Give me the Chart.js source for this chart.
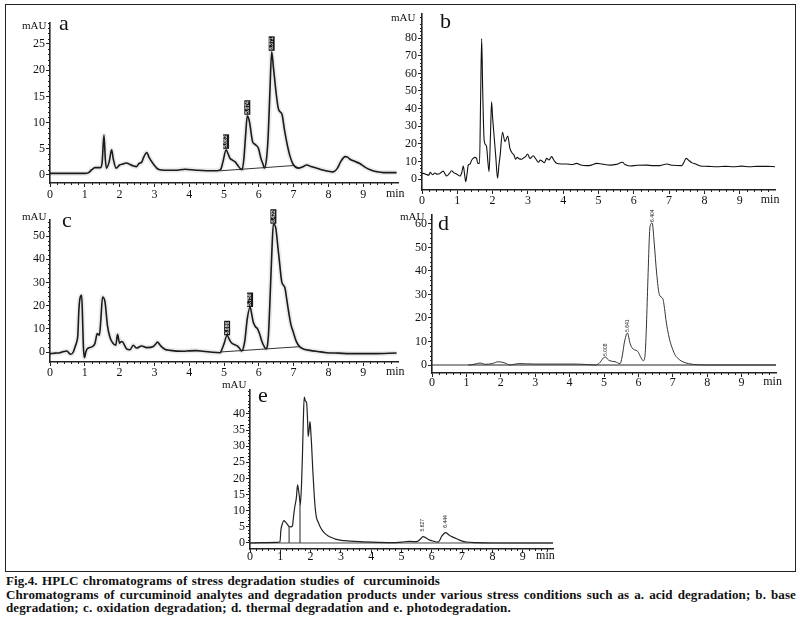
<!DOCTYPE html>
<html>
<head>
<meta charset="utf-8">
<script src="https://cdn.jsdelivr.net/npm/chart.js@4/dist/chart.umd.min.js"></script>
<style>
body { margin: 0; background: #fff; width: 811px; height: 634px; position: relative; overflow: hidden;
       font-family: "Liberation Serif", "Times New Roman", serif; color: #111; }
#frame { position: absolute; left: 5px; top: 4px; width: 789px; height: 566px; border: 1px solid #222; }
canvas { position: absolute; }
.unit { position: absolute; font-size: 11px; line-height: 11px; }
.tag { position: absolute; font-size: 22px; line-height: 22px; }
.cap { position: absolute; left: 6px; width: 790px; font-size: 13px; line-height: 14px; white-space: nowrap;
       color: #111; font-weight: bold; letter-spacing: 0.1px; word-spacing: 1px; }
.just { text-align: justify; text-align-last: justify; word-spacing: 0; }
</style>
</head>
<body>
<div id="frame"></div>

<canvas id="chartA"></canvas>
<canvas id="chartB"></canvas>
<canvas id="chartC"></canvas>
<canvas id="chartD"></canvas>
<canvas id="chartE"></canvas>

<div class="unit" style="left:22px;top:20px">mAU</div>
<div class="unit" style="left:391px;top:12px">mAU</div>
<div class="unit" style="left:22px;top:211px">mAU</div>
<div class="unit" style="left:400px;top:211px">mAU</div>
<div class="unit" style="left:222px;top:379px">mAU</div>

<div class="tag" style="left:59px;top:12px">a</div>
<div class="tag" style="left:440px;top:10px">b</div>
<div class="tag" style="left:62px;top:209px">c</div>
<div class="tag" style="left:438px;top:212px">d</div>
<div class="tag" style="left:258px;top:384px">e</div>

<div class="cap" style="top:574px">Fig.4. HPLC chromatograms of stress degradation studies of&nbsp; curcuminoids</div>
<div class="cap just" style="top:588px">Chromatograms of curcuminoid analytes and degradation products under various stress conditions such as a. acid degradation; b. base</div>
<div class="cap" style="top:601px">degradation; c. oxidation degradation; d. thermal degradation and e. photodegradation.</div>

<script>
// ---- data (time in min, signal in mAU) ----
const xTicks = [0, 1, 2, 3, 4, 5, 6, 7, 8, 9];

const aTime = [0, 0.5, 1.0, 1.1, 1.2, 1.29, 1.45, 1.5, 1.55, 1.59, 1.62, 1.7, 1.77, 1.82, 1.9, 2.0, 2.1, 2.2, 2.3, 2.4,
  2.49, 2.56, 2.63, 2.7, 2.78, 2.85, 2.97, 3.11, 3.3, 3.6, 3.88, 4.2, 4.5, 4.79, 4.9, 4.97, 5.06, 5.12, 5.17, 5.25,
  5.32, 5.4, 5.47, 5.52, 5.57, 5.62, 5.67, 5.73, 5.82, 5.9, 5.99, 6.06, 6.13, 6.16, 6.22, 6.27, 6.32, 6.37, 6.42, 6.5,
  6.56, 6.62, 6.67, 6.74, 6.82, 6.9, 6.99, 7.14, 7.25, 7.38, 7.5, 7.76, 8.0, 8.14, 8.26, 8.35, 8.48, 8.55, 8.62, 8.75,
  8.9, 9.05, 9.2, 9.4, 9.58, 9.96];
const aMau = [0.3, 0.3, 0.3, 0.4, 1.0, 1.4, 1.4, 2.5, 7.6, 3.0, 1.3, 2.5, 4.8, 3.0, 1.3, 1.9, 2.1, 2.3, 2.0, 1.7,
  1.6, 2.2, 2.4, 3.5, 4.3, 3.3, 2.1, 1.1, 0.9, 0.9, 1.1, 0.9, 0.8, 0.8, 1.0, 2.5, 4.8, 4.0, 3.2, 2.8,
  2.5, 1.8, 1.2, 1.0, 3.0, 7.5, 11.3, 10.2, 6.4, 5.8, 5.1, 3.2, 1.9, 1.3, 3.0, 7.5, 16, 23.5, 20.5, 15.5,
  12.7, 12.0, 11.5, 8.5, 5.7, 3.5, 2.0, 1.3, 1.5, 1.9, 1.6, 1.1, 0.7, 0.6, 1.3, 2.5, 3.5, 3.4, 3.0, 2.6,
  2.2, 1.5, 1.0, 0.6, 0.45, 0.45];
const aYTicks = [0, 5, 10, 15, 20, 25];
const aPeakTimes = [5.06, 5.67, 6.37];
const aPeakText = ['5.062', '5.674', '6.371'];
const aBaseTime = [4.89, 6.99];
const aBaseMau = [0.8, 1.8];

const bTime = [0, 0.04, 0.12, 0.2, 0.23, 0.3, 0.36, 0.42, 0.5, 0.56, 0.6, 0.65, 0.7, 0.77, 0.84, 0.9, 0.98, 1.08, 1.13, 1.17,
  1.21, 1.24, 1.28, 1.31, 1.36, 1.41, 1.5, 1.55, 1.58, 1.63, 1.66, 1.69, 1.72, 1.76, 1.8, 1.83, 1.87, 1.9, 1.94, 1.97,
  2.0, 2.04, 2.09, 2.14, 2.18, 2.21, 2.28, 2.35, 2.43, 2.49, 2.56, 2.61, 2.65, 2.7, 2.75, 2.82, 2.88, 2.94, 2.99, 3.06,
  3.15, 3.22, 3.3, 3.35, 3.39, 3.47, 3.53, 3.6, 3.67, 3.74, 3.81, 3.95, 4.1, 4.25, 4.38, 4.5, 4.66, 4.8, 4.95, 5.1,
  5.33, 5.5, 5.68, 5.75, 5.89, 6.1, 6.36, 6.55, 6.74, 6.93, 7.1, 7.36, 7.42, 7.48, 7.56, 7.64, 7.75, 7.88, 8.1, 8.35,
  8.6, 8.82, 9.05, 9.29, 9.5, 9.76, 10.0];
const bMau = [3.0, 3.2, 2.6, 2.2, 3.8, 2.4, 3.4, 2.8, 3.0, 4.0, 4.5, 3.0, 1.7, 3.0, 4.7, 3.6, 2.8, 1.7, 4.0, 7.4,
  2.0, -1.5, 3.5, 7.9, 8.5, 10.8, 12.3, 11.5, 8.9, 8.9, 45, 79.8, 50, 22.1, 19.5, 18.3, 9, 4.2, 25, 43.9,
  35, 25, 12.7, 0.4, 8, 12.7, 26.5, 21.2, 24.4, 17.4, 14.6, 13.5, 11.2, 12.3, 11.5, 11.2, 12.0, 12.8, 14.2, 11.7,
  13.2, 11.5, 9.5, 10.8, 10.4, 9.3, 11.7, 10.8, 12.7, 10.5, 8.9, 8.5, 8.5, 8.2, 8.9, 8.0, 7.6, 7.9, 8.9, 8.5,
  7.9, 8.3, 9.5, 8.2, 7.4, 7.8, 7.9, 7.6, 7.6, 8.5, 7.8, 7.6, 9.5, 11.7, 10.5, 9.3, 8.5, 7.4, 7.2, 7.0,
  7.2, 7.0, 7.3, 7.0, 7.2, 7.2, 7.0];
const bYTicks = [0, 10, 20, 30, 40, 50, 60, 70, 80];

const cTime = [0, 0.15, 0.29, 0.4, 0.48, 0.55, 0.6, 0.67, 0.72, 0.77, 0.8, 0.83, 0.86, 0.91, 0.94, 0.96, 0.99, 1.03, 1.07, 1.2,
  1.29, 1.36, 1.42, 1.46, 1.51, 1.58, 1.65, 1.72, 1.8, 1.89, 1.94, 2.0, 2.05, 2.09, 2.2, 2.3, 2.39, 2.49, 2.63, 2.78,
  2.97, 3.04, 3.09, 3.15, 3.21, 3.3, 3.45, 3.83, 4.0, 4.21, 4.4, 4.6, 4.89, 4.95, 5.0, 5.09, 5.15, 5.22, 5.38, 5.45,
  5.51, 5.56, 5.6, 5.67, 5.75, 5.8, 5.84, 5.9, 5.96, 6.02, 6.08, 6.15, 6.21, 6.25, 6.28, 6.34, 6.38, 6.42, 6.49, 6.55,
  6.59, 6.66, 6.75, 6.8, 6.85, 6.92, 6.99, 7.08, 7.18, 7.3, 7.47, 7.7, 7.95, 8.3, 8.62, 9.29, 9.96];
const cMau = [-0.7, -0.5, -0.3, 0.2, 0.4, -0.5, -1.0, 0.0, 2.2, 4.5, 7.2, 18, 23, 24.4, 12, 2.2, -2.4, 0, 1.4, 2.2,
  3.6, 7.9, 7.2, 13.6, 23.7, 21.6, 11.5, 6.5, 4.0, 2.9, 7.6, 3.8, 4.5, 4.3, 1.4, 1.0, 2.9, 1.7, 2.6, 1.9,
  2.4, 3.5, 4.3, 3.2, 2.2, 1.2, 0.7, 0.3, 0.5, 0.6, 0.3, 0.0, -0.3, 1.5, 3.5, 7.2, 5.5, 3.9, 2.6, 1.5,
  0.4, 2.0, 5.0, 14.4, 19.4, 16, 12.9, 11, 10.1, 8, 5.0, 2.5, 1.4, 3.0, 8, 29.5, 45, 55.3, 53.2, 45,
  39.5, 30.2, 27.7, 23, 18, 12, 8.6, 4.5, 2.2, 1.2, 0.7, 0.2, -0.3, -0.5, -0.7, -0.7, -0.4];
const cYTicks = [0, 10, 20, 30, 40, 50];
const cPeakTimes = [5.09, 5.75, 6.42];
const cPeakText = ['5.086', '5.750', '6.422'];
const cBaseTime = [4.89, 7.18];
const cBaseMau = [0.0, 2.3];

const dTime = [0, 1.06, 1.25, 1.4, 1.54, 1.75, 1.93, 2.12, 2.27, 2.51, 2.99, 3.58, 4.16, 4.5, 4.74, 4.85, 4.92, 4.98, 5.05, 5.1,
  5.17, 5.32, 5.47, 5.51, 5.55, 5.59, 5.68, 5.76, 5.82, 5.88, 5.98, 6.08, 6.14, 6.19, 6.23, 6.27, 6.34, 6.4, 6.46, 6.53,
  6.61, 6.71, 6.76, 6.8, 6.86, 6.92, 7.0, 7.06, 7.15, 7.26, 7.45, 7.74, 8.13, 10.0];
const dMau = [0, 0, 0.4, 0.85, 0.3, 0.6, 1.4, 0.85, 0, 0.6, 0.4, 0.4, 0.4, 0.2, 0, 0.6, 1.8, 3.0, 3.4, 2.5,
  1.8, 1.4, 0.6, 2.3, 5.5, 9.4, 13.6, 9.1, 7.2, 6.5, 5.8, 3.0, 1.8, 3.7, 15, 33.5, 59, 60.4, 51.9, 39.1,
  29.9, 28.2, 24, 19.3, 14, 10.1, 6.5, 4.4, 2.8, 1.6, 0.6, 0.1, 0, 0];
const dYTicks = [0, 10, 20, 30, 40, 50, 60];
const dPeakTimes = [5.05, 5.68, 6.4];
const dPeakText = ['5.008', '5.641', '6.404'];
const dBaseTime = [1.05, 10.0];
const dBaseMau = [0, 0];

const eTime = [0, 0.88, 0.99, 1.02, 1.07, 1.12, 1.17, 1.21, 1.29, 1.35, 1.4, 1.44, 1.48, 1.53, 1.57, 1.6, 1.63, 1.66, 1.7, 1.73,
  1.76, 1.79, 1.83, 1.87, 1.9, 1.92, 1.95, 1.98, 2.01, 2.03, 2.07, 2.11, 2.15, 2.2, 2.25, 2.31, 2.38, 2.47, 2.58, 2.69,
  2.82, 2.97, 3.3, 3.63, 4.2, 4.73, 5.0, 5.27, 5.49, 5.6, 5.71, 5.82, 5.93, 6.08, 6.21, 6.27, 6.32, 6.39, 6.46, 6.55,
  6.65, 6.75, 6.87, 7.0, 7.14, 7.47, 8.0, 10.0];
const eMau = [0, 0.2, 0.4, 4.0, 6.0, 6.9, 6.5, 6.1, 5.1, 5.0, 5.3, 8.5, 11.3, 14, 18, 16.5, 14.4, 11.8, 18, 26.8,
  38, 45.2, 44.0, 43.3, 38, 33, 35, 37.6, 34, 30.9, 23, 16.4, 11, 7.6, 6.5, 5.1, 4.0, 3.0, 2.2, 1.7,
  1.2, 0.9, 0.6, 0.4, 0.2, 0.1, 0.3, 0.5, 0.4, 1.0, 2.0, 1.5, 0.9, 0.5, 0.3, 1.0, 2.0, 2.8, 3.2, 2.6,
  2.0, 1.6, 1.1, 0.6, 0.3, 0.1, 0, 0];
const eYTicks = [0, 5, 10, 15, 20, 25, 30, 35, 40];
const ePeakTimes = [5.71, 6.46];
const ePeakText = ['5.627', '6.444'];
const eBaseTime = [0, 10.0];
const eBaseMau = [0, 0];
const eDropTime = [1.29, 1.65];
const eDropMau = [5.1, 12.0];

// ---- helpers ----
const pts = (xs, ys) => xs.map((x, i) => ({ x: x, y: ys[i] }));
const FONT = 'Liberation Serif';

const chromPlugin = {
  id: 'chrom',
  afterDraw(chart, args, o) {
    const ctx = chart.ctx, sx = chart.scales.x, sy = chart.scales.y, ar = chart.chartArea;
    ctx.save();
    ctx.strokeStyle = '#222';
    ctx.lineWidth = 1;
    ctx.beginPath();
    for (let i = 1; i < 50; i++) {
      if (i % 5 === 0) continue;
      const px = Math.round(sx.getPixelForValue(i * 0.2)) + 0.5;
      ctx.moveTo(px, ar.bottom); ctx.lineTo(px, ar.bottom + 2);
    }
    const n = Math.floor(sy.max / o.yMinor);
    for (let i = 1; i <= n; i++) {
      const v = i * o.yMinor;
      if (Math.abs(v % o.yMajor) < 1e-6) continue;
      const py = Math.round(sy.getPixelForValue(v)) + 0.5;
      ctx.moveTo(ar.left, py); ctx.lineTo(ar.left - 2, py);
    }
    ctx.stroke();

    ctx.fillStyle = '#111';
    ctx.font = '12px ' + FONT;
    ctx.textAlign = 'center';
    ctx.textBaseline = 'top';
    ctx.fillText('min', sx.getPixelForValue(o.minAt), ar.bottom + o.tickGap);

    // retention-time tags above the peaks
    const data = chart.data.datasets[0].data;
    (o.peaks || []).forEach((t, k) => {
      let top = -1e9;
      data.forEach(p => { if (Math.abs(p.x - t) < 0.07 && p.y > top) top = p.y; });
      const px = sx.getPixelForValue(t);
      const py = sy.getPixelForValue(top) - o.gap;
      ctx.save();
      ctx.translate(px, py);
      ctx.rotate(-Math.PI / 2);
      ctx.font = (o.boxed ? 'bold ' : '') + o.tagSize + 'px ' + 'Liberation Sans';
      ctx.textAlign = 'left';
      ctx.textBaseline = 'middle';
      const w = ctx.measureText(o.tags[k]).width;
      if (o.boxed) {
        ctx.fillStyle = '#1a1a1a';
        ctx.fillRect(-1, -3, w + 2, 6);
        ctx.fillStyle = '#ddd';
      } else {
        ctx.fillStyle = '#222';
      }
      ctx.fillText(o.tags[k], 0, 0);
      ctx.restore();
    });
    ctx.restore();
  }
};

function panel(id, box, area, yMin, yMax, yTicks, datasets, extra) {
  const cv = document.getElementById(id);
  cv.width = box.r - box.l;
  cv.height = box.b - box.t;
  cv.style.left = box.l + 'px';
  cv.style.top = box.t + 'px';
  const tickFont = { family: FONT, size: 12 };
  return new Chart(cv, {
    type: 'line',
    data: { datasets: datasets },
    options: {
      responsive: false,
      animation: false,
      devicePixelRatio: 1,
      layout: { padding: { left: 0, top: area.t - box.t, right: box.r - area.r, bottom: 0 } },
      plugins: { legend: { display: false }, tooltip: { enabled: false }, chrom: extra },
      elements: { point: { radius: 0 } },
      scales: {
        x: {
          type: 'linear', min: 0, max: 10,
          border: { display: true, color: '#222', width: 1.6 },
          grid: { display: true, drawOnChartArea: false, tickLength: 4, tickColor: '#222', tickWidth: 1 },
          ticks: { font: tickFont, color: '#111', padding: extra.tickGap - 4, maxRotation: 0, autoSkip: false },
          afterBuildTicks: s => { s.ticks = xTicks.map(v => ({ value: v })); },
          afterFit: s => { s.height = box.b - area.b; }
        },
        y: {
          type: 'linear', min: yMin, max: yMax,
          border: { display: true, color: '#222', width: 1.6 },
          grid: { display: true, drawOnChartArea: false, tickLength: 4, tickColor: '#222', tickWidth: 1 },
          ticks: { font: tickFont, color: '#111', padding: 1, autoSkip: false },
          afterBuildTicks: s => { s.ticks = yTicks.map(v => ({ value: v })); },
          afterFit: s => { s.width = area.l - box.l; }
        }
      }
    },
    plugins: [chromPlugin]
  });
}

const trace = (data, color, width) => ({ data: data, borderColor: color, borderWidth: width,
  cubicInterpolationMode: 'monotone', order: 1 });
const halo = data => ({ data: data, borderColor: 'rgba(0,0,0,0.08)', borderWidth: 5,
  cubicInterpolationMode: 'monotone', order: 3 });
const base = (data, color) => ({ data: data, borderColor: color || '#333', borderWidth: 1, tension: 0, order: 2 });

// a. acid
const aData = pts(aTime, aMau);
panel('chartA', { l: 8, t: 8, r: 410, b: 212 }, { l: 50, t: 23, r: 398, b: 183 }, -1.53, 29.0, aYTicks,
  [trace(aData, '#1a1a1a', 1.6), base(pts(aBaseTime, aBaseMau)), halo(aData)],
  { yMinor: 1, yMajor: 5, minAt: 9.92, tickGap: 5, peaks: aPeakTimes, tags: aPeakText, gap: 2, boxed: true, tagSize: 5 });

// b. base
panel('chartB', { l: 385, t: 6, r: 792, b: 208 }, { l: 422, t: 14, r: 775, b: 190 }, -6.24, 93.6, bYTicks,
  [trace(pts(bTime, bMau), '#111', 1.1)],
  { yMinor: 2, yMajor: 10, minAt: 9.86, tickGap: 4 });

// c. oxidation
const cData = pts(cTime, cMau);
panel('chartC', { l: 8, t: 206, r: 410, b: 380 }, { l: 50, t: 220, r: 398, b: 362 }, -4.31, 56.9, cYTicks,
  [trace(cData, '#1a1a1a', 1.6), base(pts(cBaseTime, cBaseMau)), halo(cData)],
  { yMinor: 2, yMajor: 10, minAt: 9.92, tickGap: 4, peaks: cPeakTimes, tags: cPeakText, gap: 1, boxed: true, tagSize: 5 });

// d. thermal
panel('chartD', { l: 395, t: 205, r: 792, b: 392 }, { l: 432, t: 215, r: 776, b: 373 }, -3.4, 63.8, dYTicks,
  [trace(pts(dTime, dMau), '#333', 1.0), base(pts(dBaseTime, dBaseMau), '#222')],
  { yMinor: 2, yMajor: 10, minAt: 9.9, tickGap: 3, peaks: dPeakTimes, tags: dPeakText, gap: 1, boxed: false, tagSize: 5 });

// e. photo
panel('chartE', { l: 210, t: 380, r: 572, b: 568 }, { l: 250, t: 390, r: 553, b: 549 }, -1.86, 47.4, eYTicks,
  [trace(pts(eTime, eMau), '#222', 1.2), base(pts(eBaseTime, eBaseMau), '#444'),
   base([{ x: eDropTime[0], y: 0 }, { x: eDropTime[0], y: eDropMau[0] }], '#222'),
   base([{ x: eDropTime[1], y: 0 }, { x: eDropTime[1], y: eDropMau[1] }], '#222')],
  { yMinor: 1, yMajor: 5, minAt: 9.75, tickGap: 1, peaks: ePeakTimes, tags: ePeakText, gap: 5, boxed: false, tagSize: 5 });
</script>
</body>
</html>
